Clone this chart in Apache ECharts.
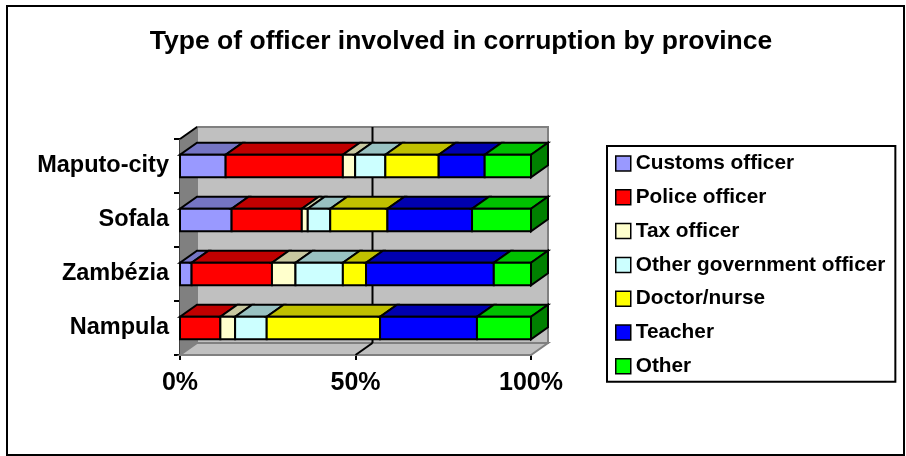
<!DOCTYPE html>
<html>
<head>
<meta charset="utf-8">
<script src="https://cdn.jsdelivr.net/npm/echarts@6/dist/echarts.min.js"></script>
<style>
  html, body { margin: 0; padding: 0; background: #fff; }
  #chart { width: 906px; height: 456px; }
</style>
</head>
<body>
<div id="chart"></div>
<script>
// Provinces, listed top to bottom
const provinces = ['Maputo-city', 'Sofala', 'Zambézia', 'Nampula'];

// Share of reports (%) by type of officer, per province
const customsOfficer = [13.0, 14.7, 3.3, 0.0];
const policeOfficer  = [33.4, 20.0, 22.9, 11.5];
const taxOfficer     = [3.5, 1.7, 6.7, 4.2];
const otherGovOfficer = [8.6, 6.4, 13.5, 9.0];
const doctorNurse    = [15.2, 16.3, 6.6, 32.3];
const teacher        = [13.1, 24.1, 36.4, 27.6];
const otherOfficer   = [13.2, 16.8, 10.6, 15.4];

const seriesNames = ['Customs officer', 'Police officer', 'Tax officer',
  'Other government officer', 'Doctor/nurse', 'Teacher', 'Other'];
const seriesValues = [customsOfficer, policeOfficer, taxOfficer,
  otherGovOfficer, doctorNurse, teacher, otherOfficer];

const percentTicks = [0, 50, 100];

// Face colours: front, top (shaded) and the visible end face
const frontColors = ['#9999FF', '#FF0000', '#FFFFCC', '#CCFFFF', '#FFFF00', '#0000FF', '#00FF00'];
const topColors   = ['#7575C4', '#C00000', '#C8C8A0', '#99C2C2', '#C0C000', '#0000B0', '#00C000'];
const endColor = '#008000';

const DX = 17, DY = 12;          // depth offset of the 3D walls and bars
const BAR_RATIO = 0.415;          // bar thickness relative to category band
const FONT = '"Liberation Sans", Arial, sans-serif';

// cumulative start/end for each segment (100% stacked)
const totals = provinces.map((_, i) => seriesValues.reduce((s, arr) => s + arr[i], 0));
const segments = seriesValues.map(() => []);
provinces.forEach((_, i) => {
  let acc = 0;
  seriesValues.forEach((arr, k) => {
    const v = arr[i] / totals[i] * 100;
    segments[k].push([i, acc, acc + v]);
    acc += v;
  });
});

function barRenderer(k) {
  const isLast = k === seriesValues.length - 1;
  return function (params, api) {
    const cat = api.value(0), s = api.value(1), e = api.value(2);
    if (e - s <= 1e-9) return;
    const p0 = api.coord([s, cat]);
    const p1 = api.coord([e, cat]);
    const h = api.size([0, 1])[1] * BAR_RATIO;
    const x0 = p0[0], x1 = p1[0];
    const y0 = p0[1] - h / 2, y1 = p0[1] + h / 2;
    const stroke = { stroke: '#000', lineWidth: 2, lineJoin: 'miter' };
    const children = [
      { type: 'polygon', shape: { points: [[x0, y0], [x1, y0], [x1 + DX, y0 - DY], [x0 + DX, y0 - DY]] },
        style: Object.assign({ fill: topColors[k] }, stroke) },
      { type: 'rect', shape: { x: x0, y: y0, width: x1 - x0, height: h },
        style: Object.assign({ fill: frontColors[k] }, stroke) }
    ];
    if (isLast) {
      children.push({ type: 'polygon',
        shape: { points: [[x1, y0], [x1 + DX, y0 - DY], [x1 + DX, y1 - DY], [x1, y1]] },
        style: Object.assign({ fill: endColor }, stroke) });
    }
    return { type: 'group', children };
  };
}

// back wall, side wall, floor and the 50% gridline
function wallRenderer(params, api) {
  const cs = params.coordSys;
  const left = cs.x, top = cs.y, right = cs.x + cs.width, bottom = cs.y + cs.height;
  const children = [
    { type: 'rect', shape: { x: left + DX, y: top - DY, width: cs.width, height: cs.height },
      style: { fill: '#C0C0C0', stroke: '#808080', lineWidth: 2 } },
    { type: 'polygon', shape: { points: [[left, top], [left + DX, top - DY], [left + DX, bottom - DY], [left, bottom]] },
      style: { fill: '#808080', stroke: '#808080', lineWidth: 1 } },
    { type: 'polygon', shape: { points: [[left, bottom], [right, bottom], [right + DX, bottom - DY], [left + DX, bottom - DY]] },
      style: { fill: '#C0C0C0', stroke: '#808080', lineWidth: 2 } },
    { type: 'line', shape: { x1: left, y1: top, x2: left + DX, y2: top - DY },
      style: { stroke: '#000', lineWidth: 2 } }
  ];
  percentTicks.slice(1, -1).forEach(t => {
    const x = api.coord([t, 0])[0];
    children.push({ type: 'line', shape: { x1: x + DX, y1: top - DY, x2: x + DX, y2: bottom - DY },
      style: { stroke: '#000', lineWidth: 2 } });
    children.push({ type: 'line', shape: { x1: x, y1: bottom, x2: x + DX, y2: bottom - DY },
      style: { stroke: '#000', lineWidth: 2 } });
  });
  return { type: 'group', children };
}

const chart = echarts.init(document.getElementById('chart'), null, { renderer: 'canvas' });

const series = [{
  type: 'custom',
  name: '__walls',
  renderItem: wallRenderer,
  data: [[0, 0, 0]],
  encode: { x: [1, 2], y: 0 },
  silent: true,
  z: 1
}];
seriesNames.forEach((name, k) => {
  series.push({
    type: 'custom',
    name,
    renderItem: barRenderer(k),
    data: segments[k],
    encode: { x: [1, 2], y: 0 },
    itemStyle: { color: frontColors[k] },
    z: 3
  });
});

chart.setOption({
  animation: false,
  backgroundColor: '#fff',
  title: {
    text: 'Type of officer involved in corruption by province',
    left: 456,
    textAlign: 'center',
    top: 23,
    textStyle: { fontFamily: FONT, fontWeight: 'bold', fontSize: 26.5, color: '#000' }
  },
  grid: { left: 180, top: 139, width: 351, height: 216, containLabel: false },
  xAxis: {
    type: 'value',
    min: 0, max: 100, interval: 50,
    axisLine: { show: true, lineStyle: { color: '#000', width: 2 } },
    axisTick: { show: true, length: 5, lineStyle: { color: '#000', width: 2 } },
    splitLine: { show: false },
    axisLabel: { formatter: '{value}%', margin: 16, color: '#000',
      fontFamily: FONT, fontWeight: 'bold', fontSize: 25 }
  },
  yAxis: {
    type: 'category',
    data: provinces,
    inverse: true,
    axisLine: { show: true, lineStyle: { color: '#000', width: 2 } },
    axisTick: { show: true, length: 6, lineStyle: { color: '#000', width: 2 } },
    splitLine: { show: false },
    axisLabel: { margin: 11, color: '#000', fontFamily: FONT, fontWeight: 'bold', fontSize: 23.5 }
  },
  legend: {
    data: seriesNames,
    orient: 'vertical',
    left: 607,
    top: 146,
    padding: [7, 10, 5, 8],
    itemGap: 12.8,
    itemWidth: 15,
    itemHeight: 15,
    itemTextGap: 6,
    icon: 'rect',
    borderColor: '#000',
    borderWidth: 2,
    selectedMode: false,
    itemStyle: { borderColor: '#000', borderWidth: 1.5 },
    textStyle: { fontFamily: FONT, fontWeight: 'bold', fontSize: 20.8, color: '#000', lineHeight: 20 }
  },
  graphic: [{
    type: 'rect',
    shape: { x: 7, y: 6, width: 897, height: 449 },
    style: { fill: null, stroke: '#000', lineWidth: 2 },
    silent: true,
    z: 10
  }],
  series
});
</script>
</body>
</html>
